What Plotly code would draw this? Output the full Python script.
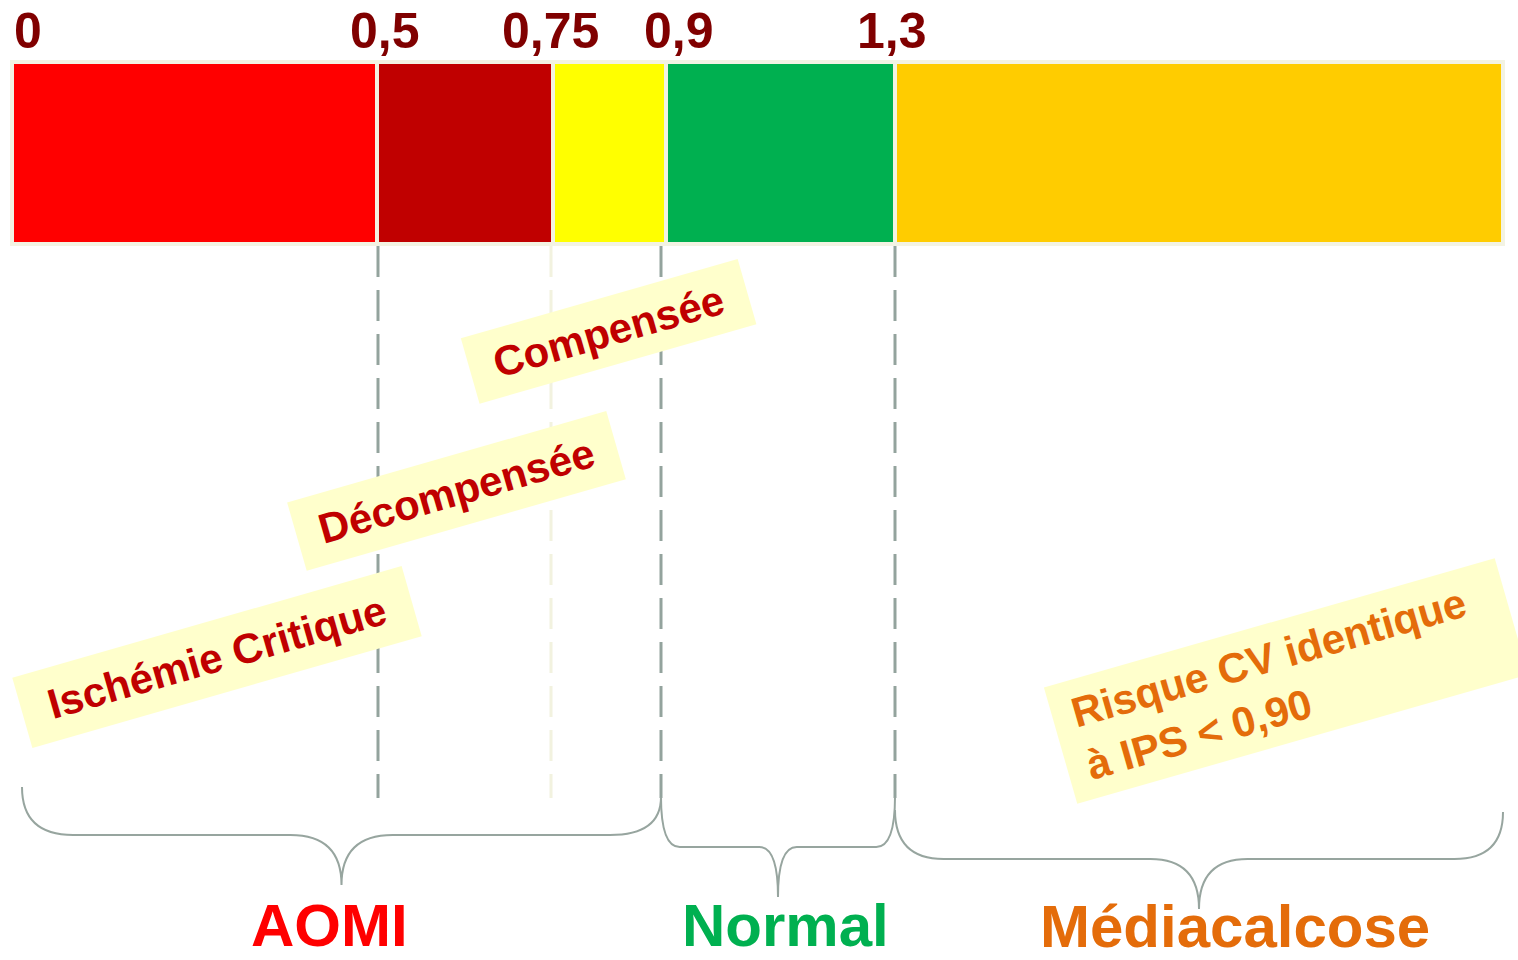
import numpy as np
import plotly.graph_objects as go

# ---------------- data ----------------
bound_labels = ["0", "0,5", "0,75", "0,9", "1,3"]          # IPS thresholds
seg_widths = [365, 176, 113, 229, 608]                      # schematic width of each IPS zone
seg_colors = ["#FF0000", "#C00000", "#FFFF00", "#00B050", "#FFCC00"]
note_texts = ["Ischémie Critique", "Décompensée", "Compensée",
              "&nbsp;Risque CV identique<br>&nbsp;à IPS &lt; 0,90"]
group_names = ["AOMI", "Normal", "Médiacalcose"]
group_bounds = [(0, 3), (3, 4), (4, 5)]                     # boundary index ranges of each group
group_colors = ["#FF0000", "#00B050", "#E46C0A"]

# ---------------- layout helpers (style) ----------------
PAGE_W, PAGE_H = 1518, 960
X0 = 12                      # screen pixel of value 0
BAR_Y, BAR_H = 153, 182
FONT = "Liberation Sans, Arial, sans-serif"

cum = np.concatenate([[0], np.cumsum(seg_widths)])

fig = go.Figure()

# segmented bar
fig.add_trace(go.Bar(
    x=seg_widths, base=cum[:-1], y=[BAR_Y] * len(seg_widths),
    orientation="h", width=BAR_H,
    marker=dict(color=seg_colors, line=dict(color="#F3F3E3", width=4)),
    hoverinfo="skip", showlegend=False,
))

# dashed threshold lines
dash_colors = ["#93A39D", "#F2F2DF", "#93A39D", "#93A39D"]
dash_dx = [1, -2, -5, 0]
for k, (c, dx) in enumerate(zip(dash_colors, dash_dx), start=1):
    xx = cum[k] + dx
    fig.add_trace(go.Scatter(
        x=[xx, xx], y=[246, 798], mode="lines",
        line=dict(color=c, width=3, dash="31px,13px"),
        hoverinfo="skip", showlegend=False,
    ))

# braces
def brace(x0, x1, y0l, y0r, ym, yt, rx):
    xm = (x0 + x1) / 2
    return (f"M {x0},{y0l} Q {x0},{ym} {x0 + rx},{ym} L {xm - rx},{ym} "
            f"Q {xm},{ym} {xm},{yt} Q {xm},{ym} {xm + rx},{ym} "
            f"L {x1 - rx},{ym} Q {x1},{ym} {x1},{y0r}")

brace_insets = [(10, -5), (-5, 0), (0, 0)]
brace_y = [(787, 797, 835, 885), (797, 797, 847, 897), (810, 812, 859, 909)]
for (i0, i1), (a, b), (yl, yr, ym, yt) in zip(group_bounds, brace_insets, brace_y):
    x0 = cum[i0] + a
    x1 = cum[i1] + b
    rx = 0.08 * (x1 - x0)
    fig.add_shape(type="path", path=brace(x0, x1, yl, yr, ym, yt, rx),
                  xref="x", yref="y", line=dict(color="#97A59F", width=2))

annotations = []

# threshold labels
label_dx = [0, 8, -3, 13, -3]
for k, (lab, dx) in enumerate(zip(bound_labels, label_dx)):
    annotations.append(dict(
        x=cum[k] + dx, y=31, text=lab, showarrow=False,
        xanchor="left" if k == 0 else "center", yanchor="middle",
        font=dict(family=FONT, size=50, color="#800000", weight="bold"),
    ))

# rotated notes
note_pos = [(205, 657), (444, 491), (596, 331), (1274, 681)]
note_box = [(388, 56), (315, 54), (271, 51), (452, 104)]
note_colors = ["#C00000", "#C00000", "#C00000", "#E46C0A"]
note_align = ["center", "center", "center", "left"]
for t, (px, py), (bw, bh), c, al in zip(note_texts, note_pos, note_box, note_colors, note_align):
    annotations.append(dict(
        x=px, y=py, text=t, showarrow=False, textangle=-16,
        xanchor="center", yanchor="middle", align=al,
        width=bw, height=bh, bgcolor="#FFFFCC", borderpad=8,
        font=dict(family=FONT, size=42, color=c, weight="bold"),
    ))

# group labels
group_dx = [-12, 7, 36]
group_y = [925, 925, 926]
for name, (i0, i1), (a, b), dx, gy, c in zip(group_names, group_bounds, brace_insets,
                                             group_dx, group_y, group_colors):
    xm = (cum[i0] + a + cum[i1] + b) / 2
    annotations.append(dict(
        x=xm + dx, y=gy, text=name, showarrow=False,
        xanchor="center", yanchor="middle", borderpad=0,
        font=dict(family=FONT, size=60, color=c, weight="bold"),
    ))

fig.update_layout(
    width=PAGE_W, height=PAGE_H,
    margin=dict(l=0, r=0, t=0, b=0),
    paper_bgcolor="white", plot_bgcolor="white",
    barmode="overlay",
    xaxis=dict(range=[-X0, PAGE_W - X0], visible=False, fixedrange=True),
    yaxis=dict(range=[PAGE_H, 0], visible=False, fixedrange=True),
    annotations=annotations,
    showlegend=False,
)

fig.write_html(
    "out.html",
    config={"displayModeBar": False},
    post_script="document.body.style.margin='0';document.body.style.overflow='hidden';",
)
